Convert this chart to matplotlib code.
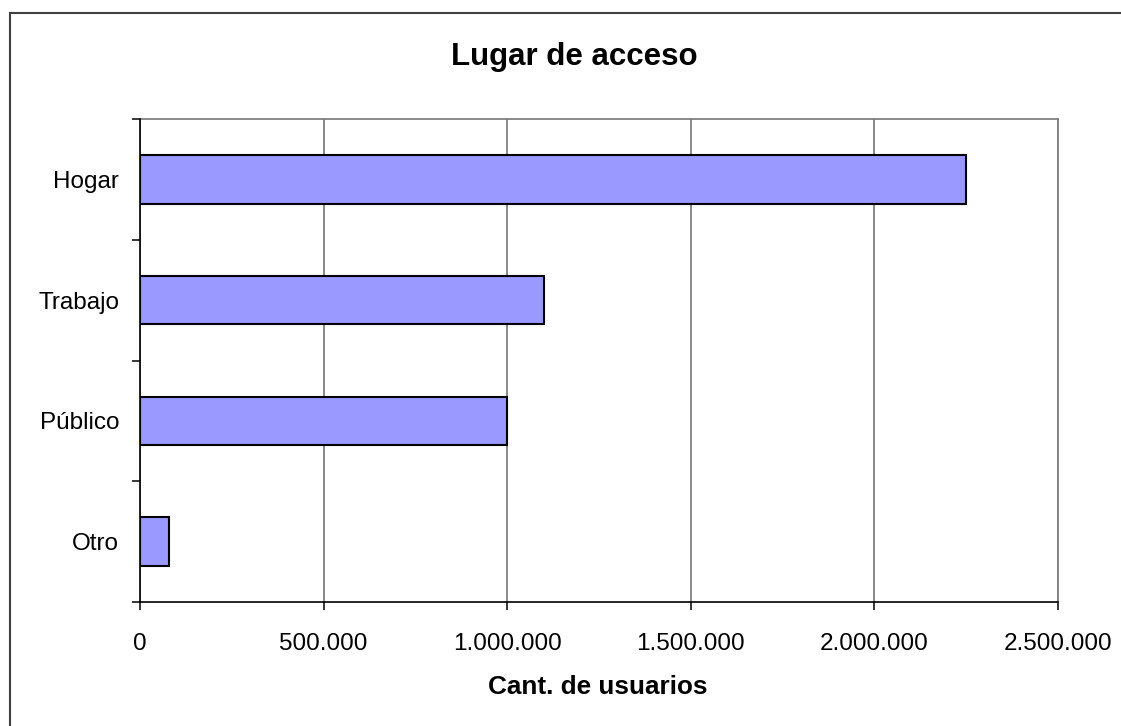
import matplotlib
matplotlib.use("Agg")
import matplotlib.pyplot as plt
from matplotlib.lines import Line2D
from matplotlib.ticker import FuncFormatter, FixedLocator

# datos
categorias = ["Hogar", "Trabajo", "Público", "Otro"]
usuarios = [2250000, 1100000, 1000000, 80000]
x_ticks = [0, 500000, 1000000, 1500000, 2000000, 2500000]

plt.rcParams['font.family'] = ['Liberation Sans', 'DejaVu Sans']

fig = plt.figure(figsize=(11.21, 7.26), dpi=100)
ax = fig.add_axes([140 / 1121, 1 - 602 / 726, 918 / 1121, 483 / 726])

pos = list(range(len(categorias)))
ax.barh(pos, usuarios, height=0.4, color='#9999FF', edgecolor='black',
        linewidth=1.5, zorder=3)

ax.set_xlim(0, 2500000)
ax.set_ylim(len(categorias) - 0.5, -0.5)

ax.xaxis.set_major_locator(FixedLocator(x_ticks))
ax.xaxis.set_major_formatter(FuncFormatter(lambda v, p: f"{int(v):,}".replace(",", ".")))
ax.set_yticks(pos)
ax.set_yticklabels(categorias)
ax.yaxis.set_minor_locator(FixedLocator([p - 0.5 for p in pos] + [len(pos) - 0.5]))

ax.tick_params(axis='x', direction='out', length=6, width=1.1, pad=16,
               labelsize=17.5, color='black')
ax.tick_params(axis='y', which='major', length=0, pad=15, labelsize=17.5)
ax.tick_params(axis='y', which='minor', direction='out', length=6, width=1.1,
               color='black')

ax.grid(axis='x', color='#808080', linewidth=1.3, zorder=0)
ax.set_axisbelow(True)

for s in ['top', 'right']:
    ax.spines[s].set_color('#808080')
    ax.spines[s].set_linewidth(1.3)
for s in ['left', 'bottom']:
    ax.spines[s].set_color('black')
    ax.spines[s].set_linewidth(1.2)
    ax.spines[s].set_zorder(4)

fig.text(574 / 1121, 1 - 57 / 726, "Lugar de acceso", ha='center', va='center',
         fontsize=22.5, fontweight='bold')
fig.text(598 / 1121, 1 - 687 / 726, "Cant. de usuarios", ha='center', va='center',
         fontsize=18.8, fontweight='bold')

# marco exterior (solo izquierda y arriba visibles)
fig.add_artist(Line2D([10 / 1121, 10 / 1121], [0, 1 - 13 / 726],
                      color='#404040', linewidth=1.5, transform=fig.transFigure))
fig.add_artist(Line2D([10 / 1121, 1], [1 - 13 / 726, 1 - 13 / 726],
                      color='#404040', linewidth=1.5, transform=fig.transFigure))

fig.savefig("out.png", dpi=100)
